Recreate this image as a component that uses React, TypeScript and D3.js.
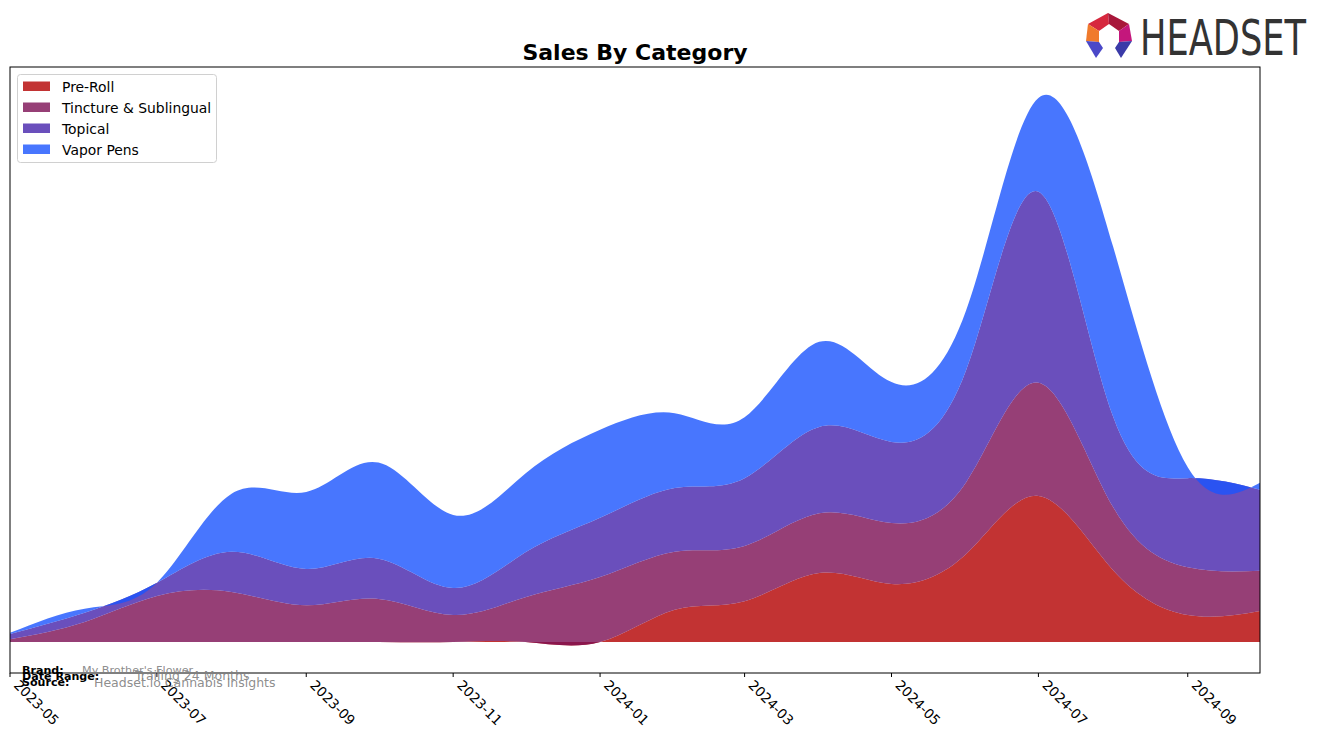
import React, { useEffect, useRef } from 'react'
import * as d3 from 'd3'

const months = ['2023-05', '2023-06', '2023-07', '2023-08', '2023-09', '2023-10', '2023-11', '2023-12',
  '2024-01', '2024-02', '2024-03', '2024-04', '2024-05', '2024-06', '2024-07', '2024-08', '2024-09', '2024-10']
const categories = ['Pre-Roll', 'Tincture & Sublingual', 'Topical', 'Vapor Pens']
const preRoll = [0, 0, 0, 0, 0, 0, 0, 0, 0, 5.6, 7.1, 12.0, 10.1, 15.3, 25.4, 12.5, 4.7, 5.4]
const tincture = [0.5, 3.5, 8.0, 8.7, 6.4, 7.5, 4.7, 7.8, 11.3, 10.1, 9.6, 10.4, 10.6, 12.5, 19.7, 11.0, 8.3, 7.0]
const topical = [0.9, 1.6, 2.3, 7.0, 6.3, 7.0, 4.7, 7.8, 10.3, 11.1, 11.8, 15.0, 14.1, 19.5, 33.2, 15.7, 15.5, 14.1]
const vaporPens = [0.2, 0.7, 0, 10.1, 13.4, 16.7, 12.7, 13.7, 15.3, 13.0, 10.6, 14.8, 10.4, 10.4, 16.3, 29.6, 1.9, 1.2]
const tickLabels = ['2023-05', '2023-07', '2023-09', '2023-11', '2024-01', '2024-03', '2024-05', '2024-07', '2024-09']
const colors = ['#b30000', '#7c0f54', '#4523ab', '#1a54fe']

export default function App() {
  const ref = useRef(null)

  useEffect(() => {
    const width = 1324
    const height = 743
    const left = 10, right = 1260, top = 67, bottom = 673
    const parse = d3.timeParse('%Y-%m')

    const svg = d3.select(ref.current)
    svg.selectAll('*').remove()
    svg.attr('width', width).attr('height', height)
      .attr('font-family', 'DejaVu Sans, sans-serif')

    const rows = months.map((m, i) => ({
      date: parse(m),
      'Pre-Roll': preRoll[i],
      'Tincture & Sublingual': tincture[i],
      'Topical': topical[i],
      'Vapor Pens': vaporPens[i]
    }))

    const x = d3.scaleTime()
      .domain([parse(months[0]), parse(months[months.length - 1])])
      .range([left, right])
    const y = d3.scaleLinear()
      .domain([-5.39, 100])
      .range([bottom, top])

    const series = d3.stack().keys(categories).offset(d3.stackOffsetNone)(rows)

    svg.append('clipPath').attr('id', 'plot-clip')
      .append('rect')
      .attr('x', left).attr('y', top)
      .attr('width', right - left).attr('height', bottom - top)

    const area = d3.area()
      .x(d => x(d.data.date))
      .y0(d => y(d[0]))
      .y1(d => y(d[1]))
      .curve(d3.curveNatural)

    svg.append('g')
      .attr('clip-path', 'url(#plot-clip)')
      .selectAll('path')
      .data(series)
      .enter()
      .append('path')
      .attr('d', area)
      .attr('fill', (d, i) => colors[i])
      .attr('fill-opacity', 0.8)

    // axes frame
    svg.append('rect')
      .attr('x', left).attr('y', top)
      .attr('width', right - left).attr('height', bottom - top)
      .attr('fill', 'none')
      .attr('stroke', '#000')
      .attr('stroke-width', 1)

    // x ticks
    const ticks = svg.append('g')
      .selectAll('g')
      .data(tickLabels)
      .enter()
      .append('g')
      .attr('transform', d => 'translate(' + x(parse(d)) + ',' + bottom + ')')
    ticks.append('line')
      .attr('y2', 4)
      .attr('stroke', '#000')
    ticks.append('text')
      .attr('transform', 'translate(3,13) rotate(45)')
      .attr('font-size', 13.6)
      .attr('fill', '#000')
      .text(d => d)

    // title
    svg.append('text')
      .attr('x', 635)
      .attr('y', 60)
      .attr('text-anchor', 'middle')
      .attr('font-size', 22)
      .attr('font-weight', 'bold')
      .text('Sales By Category')

    // legend
    const legend = svg.append('g')
    legend.append('rect')
      .attr('x', 17.5).attr('y', 74.5)
      .attr('width', 199).attr('height', 88)
      .attr('rx', 3)
      .attr('fill', '#fff')
      .attr('fill-opacity', 0.8)
      .attr('stroke', '#d0d0d0')
    const items = legend.selectAll('g.item')
      .data(categories)
      .enter()
      .append('g')
      .attr('class', 'item')
      .attr('transform', (d, i) => 'translate(0,' + (i * 21) + ')')
    items.append('rect')
      .attr('x', 23).attr('y', 81.5)
      .attr('width', 27).attr('height', 9.5)
      .attr('fill', (d, i) => colors[i])
      .attr('fill-opacity', 0.8)
    items.append('text')
      .attr('x', 62).attr('y', 91.5)
      .attr('font-size', 13.9)
      .text(d => d)

    // footer
    const foot = svg.append('g')
    const footRows = [
      ['Brand:', 22, 674, 'My Brother\'s Flower', 82, 674, 11.2],
      ['Date Range:', 22, 680, 'Trailing 24 Months', 135, 680, 12.5],
      ['Source:', 22, 686, 'Headset.io Cannabis Insights', 94, 687, 12.5]
    ]
    footRows.forEach(r => {
      foot.append('text')
        .attr('x', r[1]).attr('y', r[2])
        .attr('font-size', 11.1)
        .attr('font-weight', 'bold')
        .text(r[0])
      foot.append('text')
        .attr('x', r[4]).attr('y', r[5])
        .attr('font-size', r[6])
        .attr('fill', '#808080')
        .attr('fill-opacity', 0.9)
        .text(r[3])
    })

    // logo
    const logo = svg.append('g')
    const pieces = [
      [[1088, 24], [1108, 13], [1109, 24], [1099, 31], '#d6283e'],
      [[1108, 13], [1129, 24], [1119, 31], [1109, 24], '#a8173a'],
      [[1088, 24], [1099, 31], [1099, 42], [1086, 41], '#f07a2c'],
      [[1129, 24], [1132, 41], [1119, 42], [1119, 31], '#c4177c'],
      [[1086, 41], [1099, 42], [1103, 48], [1096, 58], '#4a48c8'],
      [[1132, 41], [1119, 42], [1115, 48], [1121, 58], '#3a3aa8']
    ]
    logo.selectAll('polygon')
      .data(pieces)
      .enter()
      .append('polygon')
      .attr('points', d => d.slice(0, 4).map(p => p.join(',')).join(' '))
      .attr('fill', d => d[4])
    logo.append('text')
      .attr('x', 1140).attr('y', 55)
      .attr('font-family', 'Liberation Sans Narrow, DejaVu Sans Condensed, sans-serif')
      .attr('font-size', 50)
      .attr('fill', '#333')
      .attr('textLength', 166)
      .attr('lengthAdjust', 'spacingAndGlyphs')
      .text('HEADSET')
  }, [])

  return (
    <svg ref={ref} style={{ position: 'absolute', left: 0, top: 0, display: 'block' }}></svg>
  )
}
